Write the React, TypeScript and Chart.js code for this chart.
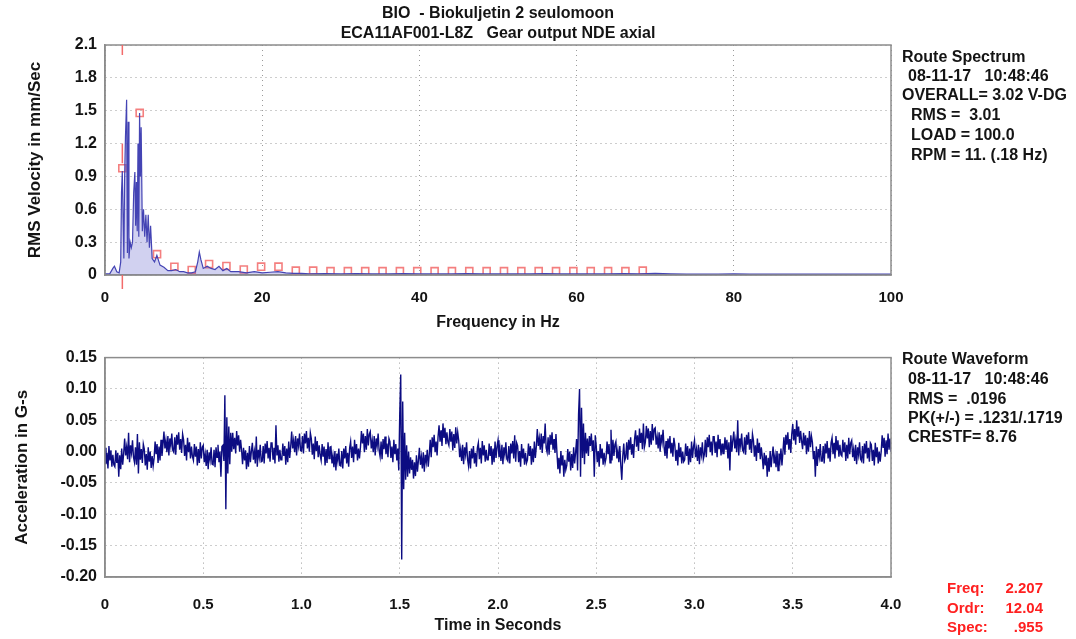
import React, { useEffect, useRef } from "react";
import { Chart, registerables } from "chart.js";
Chart.register(...registerables);

const FONT = "'Liberation Sans', Arial, sans-serif";
const TEXT = "#141414";
const AXIS = "#8c8c8c";
const GRID = "#9a9a9a";

// ---------- Spectrum (top) ----------
const specFreq = [0, 0.6, 1.0, 1.2, 1.5, 1.8, 2.0, 2.1, 2.2, 2.3, 2.4, 2.5, 2.6, 2.75, 2.85, 2.95, 3.05, 3.2, 3.35, 3.5, 3.65, 3.8, 3.9, 4.0, 4.1, 4.2, 4.3, 4.4, 4.5, 4.6, 4.75, 4.9, 5.05, 5.2, 5.35, 5.5, 5.65, 5.8, 6.0, 6.3, 6.6, 7.0, 7.5, 8.0, 8.5, 9.0, 9.5, 10.0, 10.5, 11.0, 11.5, 11.8, 12.0, 12.2, 12.5, 13.0, 13.5, 14.0, 14.5, 15.0, 15.5, 16.0, 17.0, 18.0, 19.0, 20.0, 21.0, 22.0, 23.0, 24, 25, 26, 28, 30, 32, 34, 36, 38, 40, 42, 44, 46, 48, 50, 52, 54, 56, 58, 60, 62, 64, 66, 68, 70, 72, 74, 76, 78, 80, 82, 84, 86, 88, 90, 92, 94, 96, 98, 100];
const specAmp = [0.01, 0.01, 0.06, 0.08, 0.03, 0.02, 0.12, 0.75, 0.95, 0.55, 0.15, 0.9, 1.25, 1.6, 0.2, 1.4, 0.15, 0.3, 0.25, 0.3, 0.75, 0.94, 0.45, 0.85, 0.4, 1.2, 0.35, 1.48, 0.9, 1.35, 0.4, 0.6, 0.35, 0.55, 0.3, 0.55, 0.25, 0.45, 0.15, 0.12, 0.18, 0.09, 0.07, 0.04, 0.04, 0.05, 0.03, 0.03, 0.02, 0.02, 0.03, 0.12, 0.21, 0.14, 0.06, 0.08, 0.06, 0.05, 0.08, 0.04, 0.06, 0.03, 0.03, 0.02, 0.03, 0.02, 0.025, 0.03, 0.02, 0.015, 0.015, 0.01, 0.012, 0.01, 0.012, 0.01, 0.01, 0.012, 0.01, 0.01, 0.01, 0.012, 0.01, 0.01, 0.01, 0.01, 0.012, 0.01, 0.01, 0.01, 0.01, 0.012, 0.01, 0.015, 0.01, 0.008, 0.008, 0.008, 0.01, 0.008, 0.008, 0.008, 0.008, 0.008, 0.008, 0.008, 0.008, 0.008, 0.008];
const harmonicFreq = [2.207, 4.414, 6.621, 8.828, 11.035, 13.242, 15.449, 17.656, 19.863, 22.07, 24.277, 26.484, 28.691, 30.898, 33.105, 35.312, 37.519, 39.726, 41.933, 44.14, 46.347, 48.554, 50.761, 52.968, 55.175, 57.382, 59.589, 61.796, 64.003, 66.21, 68.417];
const harmonicAmp = [0.975, 1.48, 0.19, 0.075, 0.045, 0.1, 0.082, 0.05, 0.076, 0.076, 0.04, 0.04, 0.035, 0.035, 0.035, 0.035, 0.035, 0.035, 0.035, 0.035, 0.035, 0.035, 0.035, 0.035, 0.035, 0.035, 0.035, 0.035, 0.035, 0.035, 0.04];
const cursorFreq = 2.207;
const cursorSpec = 0.975;
const cursorMarkTop = 1.2;
const specXTicks = [0, 20, 40, 60, 80, 100];
const specYTicks = [0, 0.3, 0.6, 0.9, 1.2, 1.5, 1.8, 2.1];

// ---------- Waveform (bottom) ----------
const waveStep = 0.005; // seconds per sample
const waveMilliG = [
  6, -20, -2, -27, 9, -14, 2, -24, -5, -21,
  -24, 2, -18, -2, -40, -6, -28, 5, -21, -3,
  21, -6, 7, -12, 30, -17, 10, -2, 18, -9,
  -17, 7, -21, 28, -35, 15, -13, 4, -18, 12,
  4, -22, -4, -29, 7, -16, 0, -26, -7, -23,
  -10, 16, -4, 12, -18, 8, -14, 19, -7, 11,
  32, 5, 18, -1, 25, -6, 21, 9, 29, 2,
  -1, 23, -5, 27, 11, 31, 3, 20, -2, 28,
  19, -7, 11, -14, 22, -1, 15, -11, 8, -8,
  -14, 12, -8, 8, -22, 4, -18, 15, -11, 7,
  10, -17, -4, -23, 3, -28, -1, -13, 7, -20,
  -21, 3, -25, 7, -9, 11, -17, 0, -40, 8,
  10, -15, 90, -92, 55, -35, 40, -20, 30, 0,
  30, 4, 22, -3, 33, 10, 26, 0, 19, 3,
  -20, 6, -14, 2, -28, -2, -24, 9, -17, 1,
  14, -13, 0, -19, 24, -24, 3, -9, 11, -16,
  -15, 9, -19, 13, -3, 17, -11, 6, -16, 14,
  14, -12, 6, -19, 42, -6, 10, -16, 3, -13,
  -13, 13, -7, 9, -21, 5, -17, 16, -10, 8,
  32, 5, 18, -1, 25, -6, 21, 9, 29, 2,
  1, 25, -3, 29, 13, 33, 5, 22, 0, 30,
  21, -5, 13, -12, 24, 1, 17, -9, 10, -6,
  -14, 12, -8, 8, -22, 4, -18, 15, -11, 7,
  8, -19, -6, -25, 1, -30, -3, -15, 5, -22,
  -23, 1, -27, 5, -11, 9, -19, -2, -24, 6,
  16, -10, 8, -17, 19, -4, 12, -14, 5, -11,
  7, 33, 13, 29, -1, 25, 3, 36, 10, 28,
  32, 5, 18, -1, 25, -6, 21, 9, 29, 2,
  -8, 16, -12, 20, 4, 24, -4, 13, -9, 21,
  16, -10, 8, -17, 19, -4, 12, -14, 5, -30,
  60, 123, -172, 80, -60, 30, -45, 10, -40, 0,
  -35, -9, -29, -13, -43, -17, -39, -6, -32, -14,
  6, -21, -8, -27, -1, -32, -5, -17, 3, -24,
  -5, 19, -9, 23, 7, 27, -1, 16, -6, 24,
  42, 16, 34, 9, 45, 22, 38, 12, 31, 15,
  10, 36, 16, 32, 2, 28, 6, 39, 13, 31,
  18, -9, 4, -15, 11, -20, 7, -5, 15, -12,
  -23, 1, -27, 5, -11, 9, -19, -2, -24, 6,
  14, -12, 6, -19, 17, -6, 10, -16, 3, -13,
  -13, 13, -7, 9, -21, 5, -17, 16, -10, 8,
  18, -9, 4, -15, 11, -20, 7, -5, 15, -12,
  -15, 9, -19, 13, -3, 17, -11, 26, -16, 14,
  9, -17, 1, -24, 12, -11, 5, -21, -2, -18,
  -13, 13, -7, 9, -21, 5, -17, 16, -10, 8,
  36, 9, 22, 3, 29, -2, 25, 13, 45, 6,
  -1, 23, -5, 27, 11, 31, 3, 20, -2, 28,
  -2, -28, -10, -35, 1, -22, -6, -40, -13, -29,
  -22, 4, -16, 0, -30, -4, -26, 7, -19, -1,
  20, -30, 60, 100, -40, 70, -10, 45, -20, 30,
  -3, 21, -7, 25, 9, 29, 1, 18, -40, 26,
  9, -17, 1, -24, 12, -11, 5, -21, -2, -18,
  -10, 16, -4, 12, -18, 35, -14, 19, -7, 11,
  16, -11, 2, -17, 9, -22, -45, -7, 13, -14,
  -9, 15, -13, 19, 3, 23, -5, 12, -10, 20,
  34, 8, 26, 1, 37, 14, 30, 4, 45, 7,
  15, 41, 21, 37, 7, 33, 11, 44, 18, 36,
  38, 11, 24, 5, 31, 0, 27, 15, 35, 8,
  -7, 17, -11, 21, 5, 25, -3, 14, -8, 22,
  11, -15, 3, -22, 14, -9, 7, -19, 0, -16,
  -13, 13, -7, 9, -21, 5, -17, 16, -10, 8,
  18, -9, 4, -15, 11, -20, 7, -5, 15, -12,
  -5, 19, -9, 23, 7, 27, -1, 16, -6, 24,
  24, -2, 16, -9, 27, 4, 20, -6, 13, -3,
  -3, 23, 3, 19, -11, 15, -30, 26, 0, 18,
  32, 5, 18, -1, 50, -6, 21, 9, 29, 2,
  -1, 23, -5, 27, 11, 31, 3, 20, -2, 28,
  18, -8, 10, -15, 21, -2, 14, -12, 7, -9,
  -28, -2, -22, -6, -40, -10, -32, 1, -25, -7,
  8, -19, -6, -25, 1, -30, -3, -15, 5, -22,
  -1, 23, -5, 27, 11, 31, 3, 20, -2, 28,
  44, 18, 36, 11, 50, 24, 40, 14, 33, 17,
  4, 30, 10, 26, -4, 22, 0, 33, 7, 25,
  15, -12, 1, -40, 8, -23, 4, -8, 12, -15,
  -15, 9, -19, 13, -3, 17, -11, 6, -16, 14,
  22, -4, 14, -11, 25, 2, 18, -8, 11, -5,
  -7, 19, -1, 15, -15, 11, -11, 22, -4, 14,
  18, -9, 4, -15, 11, -20, 7, -5, 15, -12,
  -15, 9, -19, 13, -3, 17, -11, 6, -16, 14,
  11, -15, 3, -22, 14, -9, 7, -19, 0, -16,
  0, 26, 6, 22, -8, 18, -4, 29, 3, 21,
  0,
];
const waveXTicks = [0, 0.5, 1.0, 1.5, 2.0, 2.5, 3.0, 3.5, 4.0];
const waveYTicks = [-0.2, -0.15, -0.1, -0.05, 0, 0.05, 0.1, 0.15];

const yTickFont = { family: FONT, size: 16, weight: "bold" as const };
const xTickFont = { family: FONT, size: 15, weight: "bold" as const };
const xTitleFont = { family: FONT, size: 16, weight: "bold" as const };
const yTitleFont = { family: FONT, size: 17, weight: "bold" as const };

const framePlugin = {
  id: "frame",
  afterDraw(chart: any) {
    const { ctx, chartArea: a } = chart;
    ctx.save();
    ctx.strokeStyle = AXIS;
    ctx.lineWidth = 1.5;
    ctx.strokeRect(a.left, a.top, a.right - a.left, a.bottom - a.top);
    ctx.restore();
  },
};

const cursorPlugin = {
  id: "cursor",
  afterDraw(chart: any) {
    if (!chart.options.plugins.cursor?.enabled) return;
    const { ctx, chartArea: a } = chart;
    const x = chart.scales.x.getPixelForValue(cursorFreq);
    const ys = chart.scales.y;
    ctx.save();
    ctx.strokeStyle = "#f26b6b";
    ctx.lineWidth = 1.5;
    ctx.beginPath();
    ctx.moveTo(x, a.top);
    ctx.lineTo(x, a.top + 10);
    ctx.moveTo(x, ys.getPixelForValue(cursorSpec) - 5);
    ctx.lineTo(x, ys.getPixelForValue(cursorMarkTop));
    ctx.moveTo(x, a.bottom);
    ctx.lineTo(x, a.bottom + 14);
    ctx.stroke();
    ctx.restore();
  },
};

function axisCommon(ticksArr: number[], fmt: (v: number) => string, pad: number, font: any) {
  return {
    type: "linear" as const,
    min: ticksArr[0],
    max: ticksArr[ticksArr.length - 1],
    afterBuildTicks: (s: any) => {
      s.ticks = ticksArr.map((v) => ({ value: v }));
    },
    ticks: {
      font,
      color: TEXT,
      padding: pad,
      autoSkip: false,
      maxRotation: 0,
      callback: (v: any) => fmt(Number(v)),
    },
    grid: { color: GRID, drawTicks: false, lineWidth: 1 },
    border: { display: true, color: AXIS, width: 1.5, dash: [1, 4] },
  };
}

function TopChart() {
  const ref = useRef<HTMLCanvasElement>(null);
  useEffect(() => {
    const chart = new Chart(ref.current!, {
      type: "scatter",
      data: {
        datasets: [
          {
            data: specFreq.map((f, i) => ({ x: f, y: specAmp[i] })),
            showLine: true,
            borderColor: "#4444b4",
            backgroundColor: "rgba(90,90,200,0.28)",
            fill: "origin",
            borderWidth: 1.2,
            pointRadius: 0,
            tension: 0,
          },
          {
            data: harmonicFreq.map((f, i) => ({ x: f, y: harmonicAmp[i] })),
            showLine: false,
            pointStyle: "rect",
            pointRadius: 5,
            borderColor: "#f47f7f",
            backgroundColor: "rgba(255,255,255,0)",
            borderWidth: 1.6,
          },
        ],
      },
      options: {
        responsive: false,
        animation: false,
        layout: { padding: { left: 0, top: 45, right: 185, bottom: 0 } },
        plugins: { legend: { display: false }, tooltip: { enabled: false }, filler: { propagate: false }, cursor: { enabled: true } } as any,
        scales: {
          x: {
            ...axisCommon(specXTicks, (v) => String(v), 14, xTickFont),
            afterFit: (s: any) => { s.height = 65; },
            title: { display: true, text: "Frequency in Hz", font: xTitleFont, color: TEXT, padding: { top: 0, bottom: 8 } },
          },
          y: {
            ...axisCommon(specYTicks, (v) => (v === 0 ? "0" : v.toFixed(1)), 8, yTickFont),
            afterFit: (s: any) => { s.width = 105; },
            title: { display: true, text: "RMS Velocity in mm/Sec", font: yTitleFont, color: TEXT, padding: { top: 25.5, bottom: 0 } },
          },
        },
      } as any,
      plugins: [framePlugin, cursorPlugin],
    });
    return () => chart.destroy();
  }, []);
  return <canvas ref={ref} width={1076} height={340} style={{ position: "absolute", left: 0, top: 0 }} />;
}

function BottomChart() {
  const ref = useRef<HTMLCanvasElement>(null);
  useEffect(() => {
    const chart = new Chart(ref.current!, {
      type: "scatter",
      data: {
        datasets: [
          {
            data: waveMilliG.map((v, i) => ({ x: i * waveStep, y: v / 1000 })),
            showLine: true,
            borderColor: "#0c0c82",
            borderWidth: 1.4,
            pointRadius: 0,
            tension: 0,
          },
        ],
      },
      options: {
        responsive: false,
        animation: false,
        layout: { padding: { left: 0, top: 9, right: 185, bottom: 0 } },
        plugins: { legend: { display: false }, tooltip: { enabled: false } },
        scales: {
          x: {
            ...axisCommon(waveXTicks, (v) => (v === 0 ? "0" : v.toFixed(1)), 19, xTickFont),
            afterFit: (s: any) => { s.height = 62; },
            title: { display: true, text: "Time in Seconds", font: xTitleFont, color: TEXT, padding: { top: 0, bottom: 4 } },
          },
          y: {
            ...axisCommon(waveYTicks, (v) => v.toFixed(2), 8, yTickFont),
            afterFit: (s: any) => { s.width = 105; },
            title: { display: true, text: "Acceleration in G-s", font: yTitleFont, color: TEXT, padding: { top: 12, bottom: 0 } },
          },
        },
      } as any,
      plugins: [framePlugin],
    });
    return () => chart.destroy();
  }, []);
  return <canvas ref={ref} width={1076} height={299} style={{ position: "absolute", left: 0, top: 340 }} />;
}

const txt: React.CSSProperties = {
  position: "absolute",
  fontFamily: FONT,
  fontWeight: "bold",
  fontSize: 16,
  lineHeight: "20px",
  color: TEXT,
  whiteSpace: "pre",
};

function Line({ x, y, children, color, size }: { x: number; y: number; children: React.ReactNode; color?: string; size?: number }) {
  return <div style={{ ...txt, left: x, top: y - 10, color: color || TEXT, fontSize: size || 16 }}>{children}</div>;
}

export default function App() {
  return (
    <div style={{ position: "fixed", left: 0, top: 0, width: 1076, height: 639, background: "#fff", overflow: "hidden" }}>
      <TopChart />
      <BottomChart />
      <div style={{ ...txt, left: 0, width: 996, top: 3, textAlign: "center" }}>
        {"BIO  - Biokuljetin 2 seulomoon\nECA11AF001-L8Z   Gear output NDE axial"}
      </div>
      <Line x={902} y={57}>Route Spectrum</Line>
      <Line x={908} y={76}>{"08-11-17   10:48:46"}</Line>
      <Line x={902} y={95}>OVERALL= 3.02 V-DG</Line>
      <Line x={911} y={115}>{"RMS =  3.01"}</Line>
      <Line x={911} y={135}>LOAD = 100.0</Line>
      <Line x={911} y={155}>RPM = 11. (.18 Hz)</Line>

      <Line x={902} y={359}>Route Waveform</Line>
      <Line x={908} y={379}>{"08-11-17   10:48:46"}</Line>
      <Line x={908} y={399}>{"RMS =  .0196"}</Line>
      <Line x={908} y={418}>{"PK(+/-) = .1231/.1719"}</Line>
      <Line x={908} y={437}>CRESTF= 8.76</Line>

      <Line x={947} y={588} color="#ff2020" size={15}>Freq:</Line>
      <Line x={947} y={608} color="#ff2020" size={15}>Ordr:</Line>
      <Line x={947} y={627} color="#ff2020" size={15}>Spec:</Line>
      <div style={{ ...txt, left: 990, width: 53, top: 578, textAlign: "right", color: "#ff2020", fontSize: 15, lineHeight: "19.5px" }}>
        {"2.207\n12.04\n.955"}
      </div>
    </div>
  );
}
